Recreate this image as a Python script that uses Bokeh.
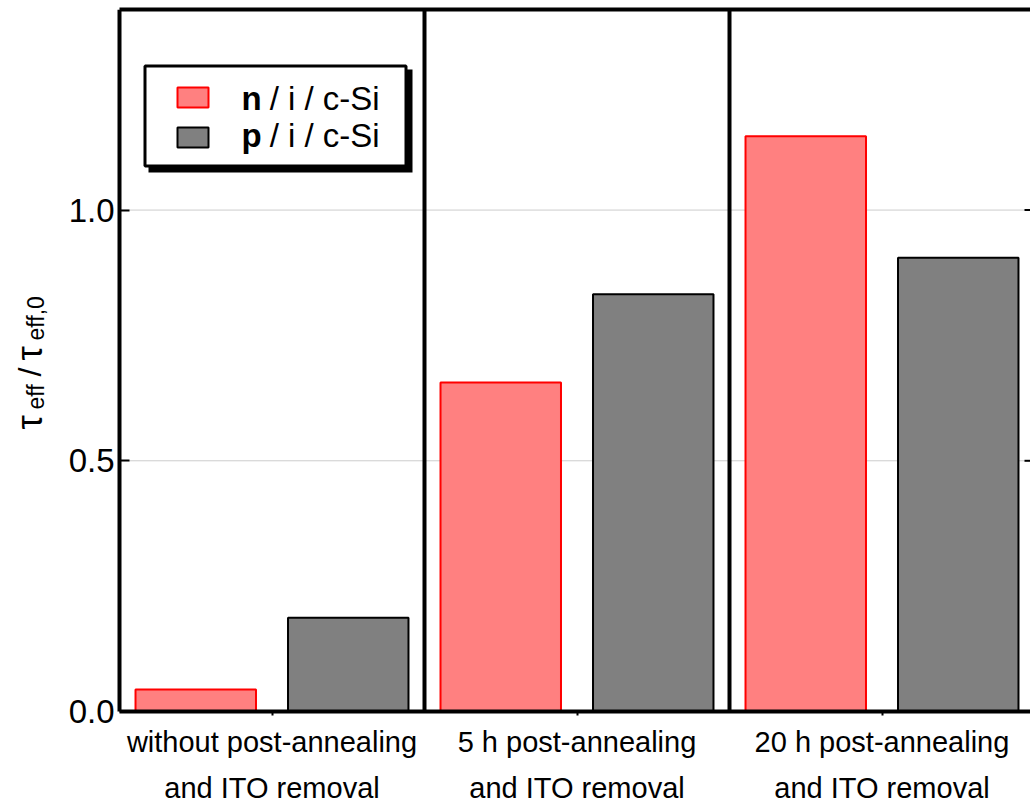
import numpy as np
from bokeh.plotting import figure
from bokeh.models import (Range1d, LinearAxis, FixedTicker, NumeralTickFormatter, Label,
                          BoxAnnotation, ColumnDataSource, CustomJSTickFormatter)
from bokeh.embed import file_html
from bokeh.resources import INLINE

# ---------------- data ----------------
line1 = ["without post-annealing", "5 h post-annealing", "20 h post-annealing"]
line2 = ["and ITO removal", "and ITO removal", "and ITO removal"]
n_vals = [0.044, 0.656, 1.147]
p_vals = [0.187, 0.832, 0.905]
y_ticks = [0.0, 0.5, 1.0]
series_bold = ["n", "p"]
series_rest = "\u00a0/ i / c-Si"
y_max = 1.40

FONT = "Liberation Sans"
RED_FILL, RED_LINE = "#FF8080", "#FF0000"
GRAY_FILL, GRAY_LINE = "#808080", "#000000"

# ---------------- layout (page pixels) ----------------
W, H = 1030, 808
AX_LEFT_PX = 119.0      # pixel where x = 0 (left axis)
GROUP_PX = 305.0        # pixels per category group
Y0_PX, YTOP_PX = 711.0, 9.0
PYU = (Y0_PX - YTOP_PX) / y_max
x_start = -AX_LEFT_PX / GROUP_PX
x_end = (W - AX_LEFT_PX) / GROUP_PX
y_start = -(H - Y0_PX) / PYU

def dx(px):
    return (px - AX_LEFT_PX) / GROUP_PX

def dy(py):
    return (Y0_PX - py) / PYU

p = figure(width=W, height=H,
           x_range=Range1d(x_start, x_end), y_range=Range1d(y_start, y_max),
           output_backend="svg", toolbar_location=None,
           x_axis_location=None, y_axis_location=None,
           min_border_left=0, min_border_right=0, min_border_top=int(YTOP_PX),
           min_border_bottom=0)
p.outline_line_color = None
p.xgrid.visible = False
p.ygrid.visible = False

n_groups = len(line1)
grp = np.arange(n_groups)

# horizontal grid lines (from tick values), limited to the data area
grid_y = [t for t in y_ticks if t > 0]
p.segment(x0=[0] * len(grid_y), x1=[x_end] * len(grid_y), y0=grid_y, y1=grid_y,
          line_color="#CCCCCC", line_width=1)

# bars
src = ColumnDataSource(dict(xn=grp + 0.25, xp=grp + 0.75, n=n_vals, p=p_vals))
p.vbar(x="xn", top="n", width=0.395, source=src,
       fill_color=RED_FILL, line_color=RED_LINE, line_width=2)
p.vbar(x="xp", top="p", width=0.395, source=src,
       fill_color=GRAY_FILL, line_color=GRAY_LINE, line_width=2)

# group separators (from 0 to the top of the data area)
seps = list(range(1, n_groups))
p.segment(x0=seps, x1=seps, y0=[0] * len(seps), y1=[y_max] * len(seps),
          line_color="black", line_width=4)

# right-edge inward ticks
tick_len = 6 / GROUP_PX
p.segment(x0=[x_end - tick_len] * len(grid_y), x1=[x_end] * len(grid_y), y0=grid_y, y1=grid_y,
          line_color="black", line_width=2)

# left axis at x = 0
yax = LinearAxis(fixed_location=0, bounds=(0, y_max), ticker=FixedTicker(ticks=y_ticks),
                 formatter=NumeralTickFormatter(format="0.0"),
                 axis_line_width=4, major_tick_in=10, major_tick_out=0, major_tick_line_width=2,
                 minor_tick_line_color=None, major_label_text_font=FONT,
                 major_label_text_font_size="33px", major_label_standoff=5,
                 major_label_text_color="black")
p.add_layout(yax, "left")

# top border
tax = LinearAxis(ticker=FixedTicker(ticks=[]), bounds=(0, x_end), axis_line_width=4,
                 major_tick_line_color=None, minor_tick_line_color=None,
                 major_tick_in=0, major_tick_out=0, major_label_standoff=0)
p.add_layout(tax, "above")

# bottom axes at y = 0 (two text lines)
cat_ticks = list(grp + 0.5)
code = "const i = Math.floor(tick); return (i >= 0 && i < labels.length) ? labels[i] : '';"
xax1 = LinearAxis(fixed_location=0, ticker=FixedTicker(ticks=cat_ticks), bounds=(0, x_end),
                  formatter=CustomJSTickFormatter(args=dict(labels=line1), code=code),
                  axis_line_width=4, major_tick_out=4, major_tick_in=0, major_tick_line_width=2,
                  minor_tick_line_color=None,
                  major_label_text_font=FONT, major_label_text_font_size="29px",
                  major_label_standoff=10, major_label_text_color="black")
p.add_layout(xax1, "below")
xax2 = LinearAxis(fixed_location=0, ticker=FixedTicker(ticks=cat_ticks),
                  formatter=CustomJSTickFormatter(args=dict(labels=line2), code=code),
                  axis_line_color=None, major_tick_line_color=None, minor_tick_line_color=None,
                  major_tick_out=0, major_tick_in=0,
                  major_label_text_font=FONT, major_label_text_font_size="29px",
                  major_label_standoff=60, major_label_text_color="black")
p.add_layout(xax2, "below")

# y axis label: tau_eff / tau_eff,0 (rotated pieces)
ylab_parts = [("τ", 29, 429, "36px"), ("eff", 35, 409, "23px"), ("/", 29, 376, "32px"),
              ("τ", 29, 360, "36px"), ("eff,0", 35, 340, "23px")]
for txt, px, py, fs in ylab_parts:
    p.add_layout(Label(x=dx(px), y=dy(py), text=txt, angle=np.pi / 2, text_align="left",
                       text_baseline="alphabetic", text_font=FONT, text_font_size=fs,
                       text_color="black"))

# legend (custom, with drop shadow)
p.add_layout(BoxAnnotation(left=dx(148), right=dx(412), top=dy(69), bottom=dy(172),
                           fill_color="black", fill_alpha=1, line_color=None))
p.add_layout(BoxAnnotation(left=dx(144.5), right=dx(405.5), top=dy(65.5), bottom=dy(165.5),
                           fill_color="white", fill_alpha=1, line_color="black", line_width=3,
                           line_alpha=1))
legend_rows = [(87, 107, 98, RED_FILL, RED_LINE), (127, 147, 135, GRAY_FILL, GRAY_LINE)]
for (t, b, base, fc, lc), bold in zip(legend_rows, series_bold):
    p.add_layout(BoxAnnotation(left=dx(177), right=dx(208), top=dy(t), bottom=dy(b),
                               fill_color=fc, fill_alpha=1, line_color=lc, line_width=2,
                               line_alpha=1))
    p.add_layout(Label(x=dx(241), y=dy(base), text=bold, text_font=FONT, text_font_size="33px",
                       text_font_style="bold", text_baseline="alphabetic", text_color="black"))
    p.add_layout(Label(x=dx(260), y=dy(base), text=series_rest, text_font=FONT,
                       text_font_size="33px", text_baseline="alphabetic", text_color="black"))

open("out.html", "w").write(file_html(p, INLINE))
